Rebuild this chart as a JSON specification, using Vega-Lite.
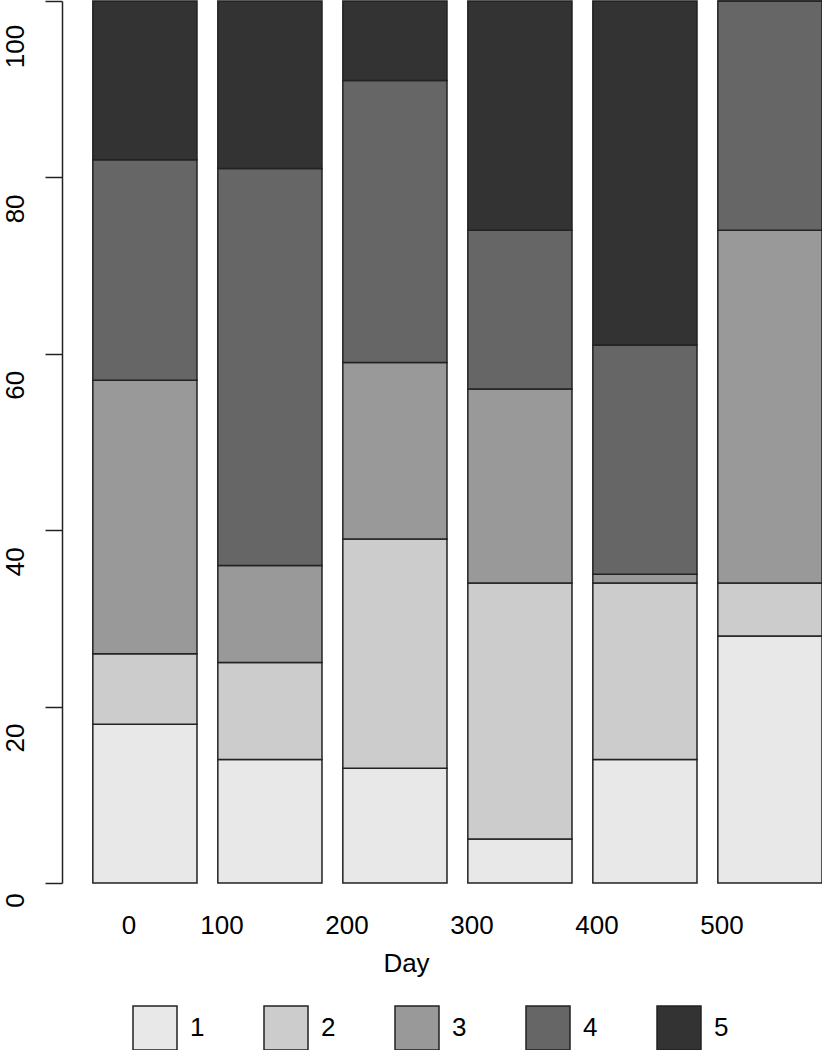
{
  "$schema": "https://vega.github.io/schema/vega-lite/v6.json",
  "autosize": {"type": "none"},
  "padding": {"left": 62, "top": 1, "right": 0, "bottom": 167},
  "width": 760,
  "height": 882,
  "background": "white",
  "config": {
    "view": {"stroke": null},
    "font": "Liberation Sans"
  },
  "data": {
    "values": [
      {"Day": "0", "group": "1", "percent": 18},
      {"Day": "0", "group": "2", "percent": 8},
      {"Day": "0", "group": "3", "percent": 31},
      {"Day": "0", "group": "4", "percent": 25},
      {"Day": "0", "group": "5", "percent": 18},
      {"Day": "100", "group": "1", "percent": 14},
      {"Day": "100", "group": "2", "percent": 11},
      {"Day": "100", "group": "3", "percent": 11},
      {"Day": "100", "group": "4", "percent": 45},
      {"Day": "100", "group": "5", "percent": 19},
      {"Day": "200", "group": "1", "percent": 13},
      {"Day": "200", "group": "2", "percent": 26},
      {"Day": "200", "group": "3", "percent": 20},
      {"Day": "200", "group": "4", "percent": 32},
      {"Day": "200", "group": "5", "percent": 9},
      {"Day": "300", "group": "1", "percent": 5},
      {"Day": "300", "group": "2", "percent": 29},
      {"Day": "300", "group": "3", "percent": 22},
      {"Day": "300", "group": "4", "percent": 18},
      {"Day": "300", "group": "5", "percent": 26},
      {"Day": "400", "group": "1", "percent": 14},
      {"Day": "400", "group": "2", "percent": 20},
      {"Day": "400", "group": "3", "percent": 1},
      {"Day": "400", "group": "4", "percent": 26},
      {"Day": "400", "group": "5", "percent": 39},
      {"Day": "500", "group": "1", "percent": 28},
      {"Day": "500", "group": "2", "percent": 6},
      {"Day": "500", "group": "3", "percent": 40},
      {"Day": "500", "group": "4", "percent": 26},
      {"Day": "500", "group": "5", "percent": 0}
    ]
  },
  "mark": {"type": "bar", "stroke": "#222222", "strokeWidth": 1.5},
  "encoding": {
    "x": {
      "field": "Day",
      "type": "ordinal",
      "sort": ["0", "100", "200", "300", "400", "500"],
      "scale": {"paddingInner": 0.1667, "paddingOuter": 0.1233, "align": 1},
      "axis": {
        "title": "Day",
        "labelAngle": 0,
        "domain": false,
        "ticks": false,
        "tickSize": 0,
        "labelFontSize": 26,
        "labelColor": "#000000",
        "labelBaseline": "alphabetic",
        "labelAlign": "center",
        "labelPadding": 50,
        "labelOffset": {"condition": {"test": "datum.value === '0'", "value": -16}, "value": -48},
        "titleFontSize": 26,
        "titleFontWeight": "normal",
        "titleColor": "#000000",
        "titleBaseline": "alphabetic",
        "titleAlign": "center",
        "titleX": 344,
        "titleY": 88
      }
    },
    "y": {
      "field": "percent",
      "type": "quantitative",
      "stack": "zero",
      "scale": {"domain": [0, 100], "nice": false, "zero": true},
      "axis": {
        "title": null,
        "values": [0, 20, 40, 60, 80, 100],
        "grid": false,
        "labelAngle": -90,
        "labelAlign": "center",
        "labelBaseline": "alphabetic",
        "labelPadding": 22,
        "labelFontSize": 26,
        "labelColor": "#000000",
        "tickSize": 17,
        "tickWidth": 1.5,
        "tickColor": "#222222",
        "domainWidth": 1.5,
        "domainColor": "#222222",
        "labelOffset": {"condition": [{"test": "datum.value === 0", "value": 17}, {"test": "datum.value === 100", "value": 45}], "value": 31}
      }
    },
    "color": {
      "field": "group",
      "type": "nominal",
      "scale": {"domain": ["1", "2", "3", "4", "5"], "range": ["#e8e8e8", "#cccccc", "#999999", "#666666", "#333333"]},
      "legend": {
        "title": null,
        "orient": "none",
        "direction": "horizontal",
        "legendX": 70,
        "legendY": 1004,
        "padding": 0,
        "offset": 0,
        "symbolType": "square",
        "symbolSize": 1936,
        "symbolStrokeColor": "#222222",
        "symbolStrokeWidth": 1.5,
        "symbolOpacity": 1,
        "labelFontSize": 26,
        "labelColor": "#000000",
        "labelOffset": 12,
        "columnPadding": 56
      }
    },
    "order": {"field": "group", "type": "ordinal"}
  }
}
